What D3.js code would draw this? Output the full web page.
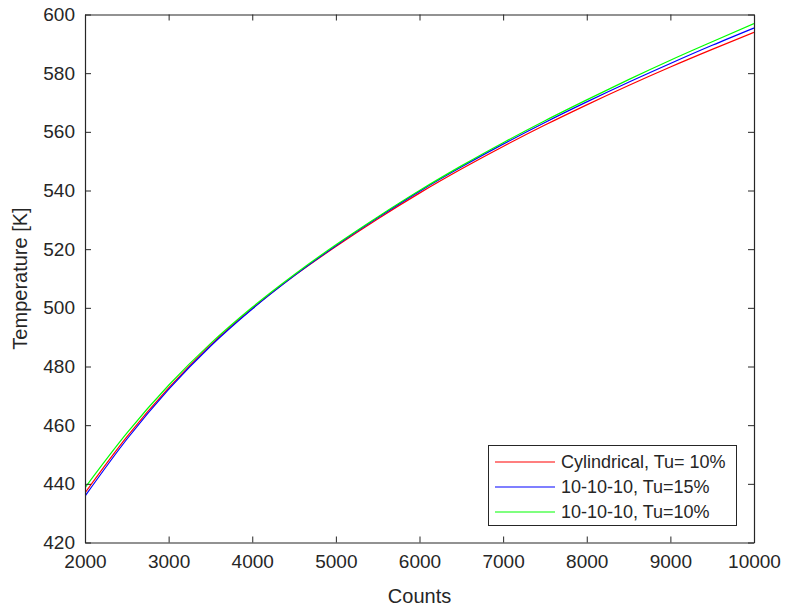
<!DOCTYPE html>
<html><head><meta charset="utf-8">
<script src="https://cdn.jsdelivr.net/npm/d3@7"></script>
<style>
body{margin:0;background:#fff;}
text{font-family:"Liberation Sans",Arial,Helvetica,sans-serif;}
</style></head>
<body><svg id="c" width="786" height="607"></svg>
<script>
const counts = [2000,2500,3000,3500,4000,4500,5000,5500,6000,6500,7000,7500,8000,8500,9000,9500,10000];
const cylTu10 = [436.9,456.0,472.7,487.3,499.8,510.9,520.9,530.3,539.1,547.3,555.0,562.3,569.2,575.8,582.1,588.1,593.9];
const t101010Tu15 = [435.8,455.2,472.2,486.9,499.6,510.9,521.2,530.7,539.7,548.0,555.8,563.2,570.2,576.9,583.3,589.5,595.4];
const t101010Tu10 = [438.7,457.3,473.6,487.8,500.2,511.3,521.5,531.0,540.0,548.4,556.3,563.8,570.9,577.8,584.4,590.7,596.9];
const seriesNames = ["Cylindrical, Tu= 10%","10-10-10, Tu=15%","10-10-10, Tu=10%"];
const seriesColors = ["#ff0000","#0000ff","#00ff00"];
const xTicks = [2000,3000,4000,5000,6000,7000,8000,9000,10000];
const yTicks = [420,440,460,480,500,520,540,560,580,600];

const svg = d3.select("#c");
const L=85,R=754,T=14.5,B=542.5;
const x = d3.scaleLinear().domain([2000,10000]).range([L,R]);
const y = d3.scaleLinear().domain([420,600]).range([B,T]);
const axisColor="#262626", textColor="#262626";

const series = [cylTu10,t101010Tu15,t101010Tu10];
const line = d3.line().x((d,i)=>x(counts[i])).y(d=>y(d)).curve(d3.curveMonotoneX);
const g = svg.append("g");
g.append("defs").append("clipPath").attr("id","clip").append("rect").attr("x",L).attr("y",T).attr("width",R-L).attr("height",B-T);
series.forEach((s,k)=>{
  g.append("path").datum(s).attr("d",line).attr("fill","none")
   .attr("stroke",seriesColors[k]).attr("stroke-width",1.2).attr("clip-path","url(#clip)");
});

const tick=6;
const fs="19px";
const fmt=d3.format("d");
const xb = svg.append("g").attr("transform",`translate(0,${B})`)
  .call(d3.axisBottom(x).tickValues(xTicks).tickFormat(fmt).tickSizeInner(-tick).tickSizeOuter(0).tickPadding(12));
const xt = svg.append("g").attr("transform",`translate(0,${T})`)
  .call(d3.axisTop(x).tickValues(xTicks).tickSizeInner(-tick).tickSizeOuter(0).tickFormat(""));
const yl = svg.append("g").attr("transform",`translate(${L},0)`)
  .call(d3.axisLeft(y).tickValues(yTicks).tickFormat(fmt).tickSizeInner(-tick).tickSizeOuter(0).tickPadding(10));
const yr = svg.append("g").attr("transform",`translate(${R},0)`)
  .call(d3.axisRight(y).tickValues(yTicks).tickSizeInner(-tick).tickSizeOuter(0).tickFormat(""));
[xb,xt,yl,yr].forEach(a=>{
  a.selectAll("path").attr("stroke",axisColor).attr("stroke-width",1.2);
  a.selectAll("line").attr("stroke",axisColor).attr("stroke-width",1);
  a.selectAll("text").attr("fill",textColor).style("font-size",fs).style("font-family","'Liberation Sans',Arial,sans-serif");
});
svg.append("text").attr("x",(L+R)/2).attr("y",596).attr("dy","0.35em").attr("text-anchor","middle")
  .attr("fill",textColor).style("font-size","20px").text("Counts");
svg.append("text").attr("transform",`translate(20,${(T+B)/2}) rotate(-90)`).attr("dy","0.35em").attr("text-anchor","middle")
  .attr("fill",textColor).style("font-size","20px").text("Temperature [K]");

const lg = svg.append("g");
lg.append("rect").attr("x",488.5).attr("y",445.5).attr("width",248).attr("height",80)
  .attr("fill","#fff").attr("stroke",axisColor).attr("stroke-width",1);
seriesNames.forEach((n,k)=>{
  const yy = 462 + k*25;
  lg.append("line").attr("x1",495).attr("x2",555).attr("y1",yy).attr("y2",yy)
    .attr("stroke",seriesColors[k]).attr("stroke-width",1.2);
  lg.append("text").attr("x",561).attr("y",yy).attr("dy","0.35em").attr("fill",textColor)
    .style("font-size","18px").text(n);
});
</script></body></html>
